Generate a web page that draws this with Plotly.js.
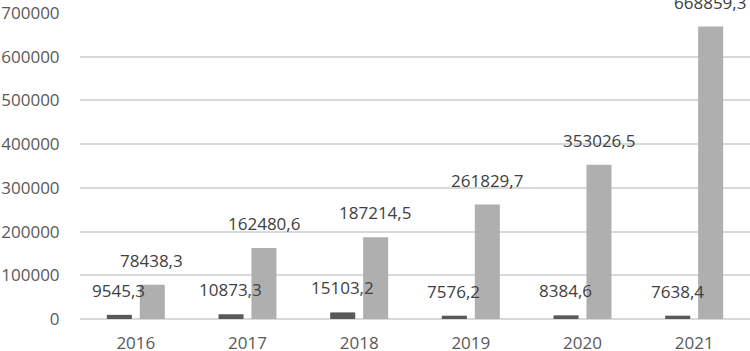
<!DOCTYPE html>
<html><head><meta charset="utf-8">
<script src="https://cdn.plot.ly/plotly-3.0.1.min.js"></script>
<style>html,body{margin:0;padding:0;background:#fff}#chart{width:750px;height:351px}</style>
</head><body><div id="chart"></div><pre id="err" style="position:absolute;top:0;left:100px;font-size:11px;margin:0"></pre>
<script>
window.onerror = function(m){document.getElementById('err').textContent += m + '\n';};
const years = ['2016','2017','2018','2019','2020','2021'];
const seriesA = [9545.3, 10873.3, 15103.2, 7576.2, 8384.6, 7638.4];
const seriesB = [78438.3, 162480.6, 187214.5, 261829.7, 353026.5, 668859.3];
const yTicks = [0,100000,200000,300000,400000,500000,600000,700000];

const fmt = v => v.toFixed(1).replace('.', ',');
const FONT = 'Open Sans, sans-serif';
const textFont = {family: FONT, size: 17, color: '#404040'};

const traces = [
  {type:'bar', x: years, y: seriesA, marker:{color:'#595959'}, name:'A'},
  {type:'bar', x: years, y: seriesB, marker:{color:'#afafaf'}, name:'B'}
];

const annotations = [];
years.forEach((yr,i)=>{
  annotations.push({x: i, y: seriesA[i], xref:'x', yref:'y', text: fmt(seriesA[i]), showarrow:false,
    xanchor:'center', yanchor:'bottom', xshift:-17, yshift:11, font:textFont});
  annotations.push({x: i, y: seriesB[i], xref:'x', yref:'y', text: fmt(seriesB[i]), showarrow:false,
    xanchor:'center', yanchor:'bottom', xshift:16, yshift:11, font:textFont});
});

const layout = {
  width:750, height:351,
  margin:{l:80, r:0, t:13, b:32},
  showlegend:false,
  barmode:'group', bargap:0.41, bargroupgap:0.24,
  paper_bgcolor:'#fff', plot_bgcolor:'#fff',
  font:{family:FONT, size:17, color:'#595959'},
  xaxis:{type:'category', range:[-0.5,5.5], autorange:false, showgrid:false, zeroline:false, showline:false,
    ticks:'outside', ticklen:9, tickcolor:'rgba(0,0,0,0)',
    tickfont:{family:FONT, size:17, color:'#595959'}},
  yaxis:{range:[0,700000], autorange:false, tickmode:'array', tickvals: yTicks, ticktext: yTicks.map(String),
    showgrid:true, gridcolor:'#d9d9d9', gridwidth:1.5, zeroline:true, zerolinecolor:'#d9d9d9', zerolinewidth:1.5,
    showline:false, ticks:'outside', ticklen:16, tickcolor:'rgba(0,0,0,0)',
    tickfont:{family:FONT, size:17, color:'#595959'}},
  annotations: annotations
};
Plotly.newPlot('chart', traces, layout, {displayModeBar:false})
  .catch(e=>{document.getElementById('err').textContent += 'ERR ' + e;});
</script></body></html>
